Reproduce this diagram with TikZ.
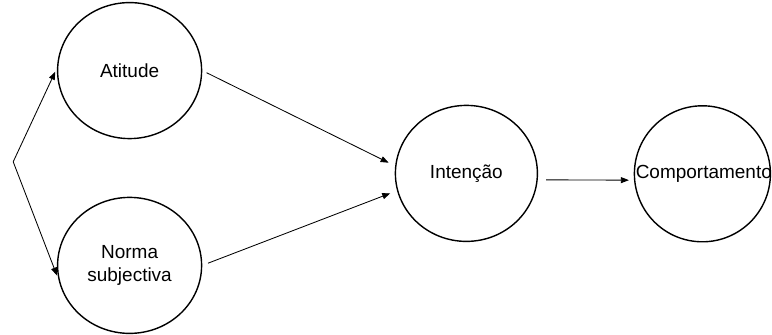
\documentclass[tikz,border=0pt]{standalone}
\usepackage{fontspec}
\setmainfont{Liberation Sans}
\usetikzlibrary{shapes.geometric,arrows.meta}
\begin{document}
\begin{tikzpicture}[
    construct/.style={ellipse, draw, line width=1pt, minimum width=3.6cm,
      minimum height=3.4cm, inner sep=0pt, align=center,
      font=\fontsize{13.5}{17}\selectfont},
    link/.style={-{Triangle[length=2mm,width=1.5mm]}, line width=0.6pt}
  ]
  \useasboundingbox (0,0) rectangle (19.3,8.375);
  \draw
    (3.24,6.61) node[construct] (atit){Atitude}
    (3.24,1.74) node[construct] (norma){Norma\\subjectiva}
    (11.66,4.04) node[construct, minimum width=3.55cm] (int){Intenção}
    (17.56,4.03) node[construct, minimum width=3.4cm] (comp){\makebox[0pt]{\hspace{2pt}Comportamento}};
  \coordinate (fork) at (0.33,4.33);
  \begin{scope}[link]
    \draw[shorten >=1mm] (fork) to (atit.178);
    \draw[shorten >=1mm] (fork) to (norma.191);
    \draw[shorten <=1.2mm, shorten >=1.8mm] (atit.east) to (int.174.5);
    \draw[shorten <=1.5mm, shorten >=1.8mm] (norma.east) to (int.194);
    \draw[shorten <=2mm, shorten >=1.2mm] ([yshift=-0.16cm]int.east) to ([yshift=-0.16cm]comp.west);
  \end{scope}
\end{tikzpicture}
\end{document}
